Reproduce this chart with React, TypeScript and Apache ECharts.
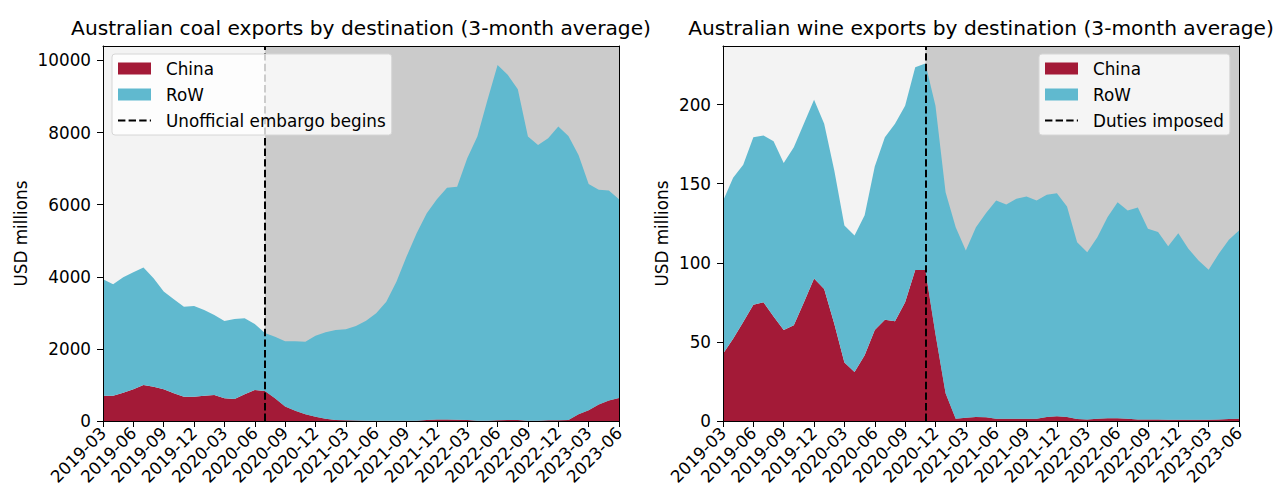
import React, { useEffect, useRef } from 'react';
import * as echarts from 'echarts';

// Monthly categories 2019-03 .. 2023-06
const START_YEAR = 2019;
const START_MONTH = 3;
const N_MONTHS = 52;
const months: string[] = [];
for (let k = 0; k < N_MONTHS; k++) {
  const m = START_MONTH - 1 + k;
  months.push(`${START_YEAR + Math.floor(m / 12)}-${String((m % 12) + 1).padStart(2, '0')}`);
}

// Coal exports, USD millions (3-month average)
const coalChina = [
  700, 700, 785, 880, 1000, 950, 880, 770, 675, 675, 700, 720, 630, 610, 740, 860,
  830, 630, 400, 285, 185, 120, 60, 30, 20, 15, 10, 5, 5, 5, 5, 10,
  30, 40, 40, 35, 30, 10, 10, 20, 30, 25, 10, 5, 20, 20, 30, 190,
  300, 460, 570, 640,
];
const coalRoW = [
  3230, 3090, 3200, 3245, 3260, 3010, 2710, 2605, 2495, 2515, 2380, 2220, 2145, 2220, 2110, 1830,
  1610, 1710, 1810, 1925, 2015, 2245, 2400, 2495, 2525, 2620, 2770, 2985, 3305, 3860, 4555, 5195,
  5730, 6110, 6430, 6465, 7260, 7880, 8895, 9850, 9570, 9175, 7880, 7650, 7820, 8145, 7875, 7190,
  6275, 5950, 5820, 5510,
];

// Wine exports, USD millions (3-month average)
const wineChina = [
  42.5, 52, 62.5, 73.5, 75, 66, 57.5, 60.5, 75, 90, 83.5, 61.5, 37, 31, 41.5, 57.5,
  64, 63, 75, 95.5, 95.5, 55, 17.5, 1.5, 2, 2.5, 2.3, 1.5, 1.5, 1.5, 1.5, 1.5,
  2.5, 3, 2.5, 1.2, 1, 1.5, 1.8, 1.8, 1.5, 1, 1, 1, 0.8, 0.8, 0.8, 0.8,
  0.8, 1, 1.2, 1.5,
];
const wineRoW = [
  96.5, 101.7, 99.5, 105.9, 105.4, 110.8, 105.5, 112.5, 113, 113, 104.3, 96.8, 86.6, 86.2, 88.5, 103.3,
  115.4, 124.8, 124.3, 128.1, 130.5, 144.3, 127.1, 121, 105.8, 120, 129.2, 137.9, 135.3, 138.9, 140.4, 137.9,
  140.5, 141, 133.1, 111.8, 105.7, 114.7, 127, 136.5, 131.5, 134, 120.5, 118.4, 109.7, 117.9, 108, 100.7,
  94.8, 104.7, 113.3, 118.9,
];

// Event months
const coalEventMonth = '2020-07';
const wineEventMonth = '2020-11';

const coalYMax = 10400;
const coalYInterval = 2000;
const wineYMax = 237;
const wineYInterval = 50;

const coalTitle = 'Australian coal exports by destination (3-month average)';
const wineTitle = 'Australian wine exports by destination (3-month average)';
const coalEventName = 'Unofficial embargo begins';
const wineEventName = 'Duties imposed';

const FONT = 'DejaVu Sans';
const FS = 16.8;
const CHINA = '#a31a37';
const ROW = '#60b9cf';
const BG_PRE = '#f3f3f3';
const BG_POST = '#cbcbcb';
const DASH = [7.4, 3.2];
const DASH_ICON =
  'path://M0,0M33,12M0,5H7.4V7H0Z M10.6,5H18V7H10.6Z M21.2,5H28.6V7H21.2Z M31.8,5H33V7H31.8Z';

function xAxes(g: number) {
  return [
    {
      type: 'category', gridIndex: g, data: months, boundaryGap: false, z: 10,
      axisLine: { show: true, onZero: false, lineStyle: { color: '#000', width: 1 } },
      axisTick: { show: true, length: 6, interval: 2, lineStyle: { color: '#000' } },
      axisLabel: { interval: 2, rotate: 45, margin: 9, fontSize: FS, color: '#000', fontFamily: FONT },
      splitLine: { show: false },
    },
    {
      type: 'category', gridIndex: g, data: months, boundaryGap: false, position: 'top', z: 10,
      axisLine: { show: true, onZero: false, lineStyle: { color: '#000', width: 1 } },
      axisTick: { show: false }, axisLabel: { show: false }, splitLine: { show: false },
    },
  ];
}

function yAxes(g: number, max: number, interval: number, nameGap: number) {
  return [
    {
      type: 'value', gridIndex: g, min: 0, max, interval, z: 10,
      axisLine: { show: true, onZero: false, lineStyle: { color: '#000', width: 1 } },
      axisTick: { show: true, length: 6, lineStyle: { color: '#000' } },
      axisLabel: {
        margin: 12, fontSize: FS, color: '#000', fontFamily: FONT, showMaxLabel: false,
        formatter: (v: number) => String(v),
      },
      splitLine: { show: false },
      name: 'USD millions', nameLocation: 'middle', nameGap,
      nameTextStyle: { fontSize: FS, color: '#000', fontFamily: FONT },
    },
    {
      type: 'value', gridIndex: g, position: 'right', min: 0, max, z: 10,
      axisLine: { show: true, onZero: false, lineStyle: { color: '#000', width: 1 } },
      axisTick: { show: false }, axisLabel: { show: false }, splitLine: { show: false },
    },
  ];
}

function panelSeries(g: number, china: number[], row: number[], eventMonth: string, eventName: string) {
  const ax = g * 2;
  return [
    {
      type: 'line', name: 'bg' + g, xAxisIndex: ax, yAxisIndex: ax, data: [], z: 1, silent: true,
      markArea: {
        silent: true,
        data: [
          [{ xAxis: months[0], itemStyle: { color: BG_PRE } }, { xAxis: eventMonth }],
          [{ xAxis: eventMonth, itemStyle: { color: BG_POST } }, { xAxis: months[N_MONTHS - 1] }],
        ],
      },
    },
    {
      type: 'line', name: 'China', xAxisIndex: ax, yAxisIndex: ax, stack: 'p' + g, z: 2,
      data: china, symbol: 'none', lineStyle: { width: 0, color: CHINA },
      itemStyle: { color: CHINA }, areaStyle: { color: CHINA, opacity: 1 },
    },
    {
      type: 'line', name: 'RoW', xAxisIndex: ax, yAxisIndex: ax, stack: 'p' + g, z: 2,
      data: row, symbol: 'none', lineStyle: { width: 0, color: ROW },
      itemStyle: { color: ROW }, areaStyle: { color: ROW, opacity: 1 },
    },
    {
      type: 'line', name: eventName, xAxisIndex: ax, yAxisIndex: ax, data: [], z: 5, symbol: 'none',
      lineStyle: { color: '#000', type: DASH, width: 2 }, itemStyle: { color: '#000' },
      markLine: {
        silent: true, symbol: ['none', 'none'], label: { show: false },
        lineStyle: { color: '#000', type: DASH, width: 2 },
        data: [{ xAxis: eventMonth }],
      },
    },
  ];
}

function legend(left: number, eventName: string) {
  return {
    data: [{ name: 'China', icon: 'rect' }, { name: 'RoW', icon: 'rect' }, { name: eventName, icon: DASH_ICON }],
    orient: 'vertical', left, top: 54, z: 20,
    itemWidth: 33, itemHeight: 12, itemGap: 7,
    backgroundColor: 'rgba(255,255,255,0.8)', borderColor: '#d6d6d6', borderWidth: 1, borderRadius: 3,
    padding: [5, 6, 5, 6], selectedMode: false,
    textStyle: { fontSize: FS, color: '#000', fontFamily: FONT, padding: [0, 0, 0, 10], lineHeight: 19 },
  };
}

export default function App() {
  const ref = useRef<HTMLDivElement>(null);
  useEffect(() => {
    document.body.style.margin = '0';
    if (!ref.current) return;
    const chart = echarts.init(ref.current, undefined, { renderer: 'svg' });
    chart.setOption({
      animation: false,
      textStyle: { fontFamily: FONT },
      grid: [
        { left: 103, top: 46, width: 516, height: 375 },
        { left: 723, top: 46, width: 516, height: 375 },
      ],
      xAxis: [...xAxes(0), ...xAxes(1)],
      yAxis: [...yAxes(0, coalYMax, coalYInterval, 74), ...yAxes(1, wineYMax, wineYInterval, 53)],
      legend: [legend(112, coalEventName), legend(1039, wineEventName)],
      graphic: [
        {
          type: 'text', x: 361, y: 28,
          style: { text: coalTitle, fontSize: 20.2, fontFamily: FONT, fill: '#000', align: 'center', verticalAlign: 'middle' },
        },
        {
          type: 'text', x: 981, y: 28,
          style: { text: wineTitle, fontSize: 20.2, fontFamily: FONT, fill: '#000', align: 'center', verticalAlign: 'middle' },
        },
      ],
      series: [
        ...panelSeries(0, coalChina, coalRoW, coalEventMonth, coalEventName),
        ...panelSeries(1, wineChina, wineRoW, wineEventMonth, wineEventName),
      ],
    });
    return () => chart.dispose();
  }, []);
  return <div ref={ref} style={{ width: 1277, height: 495 }} />;
}
